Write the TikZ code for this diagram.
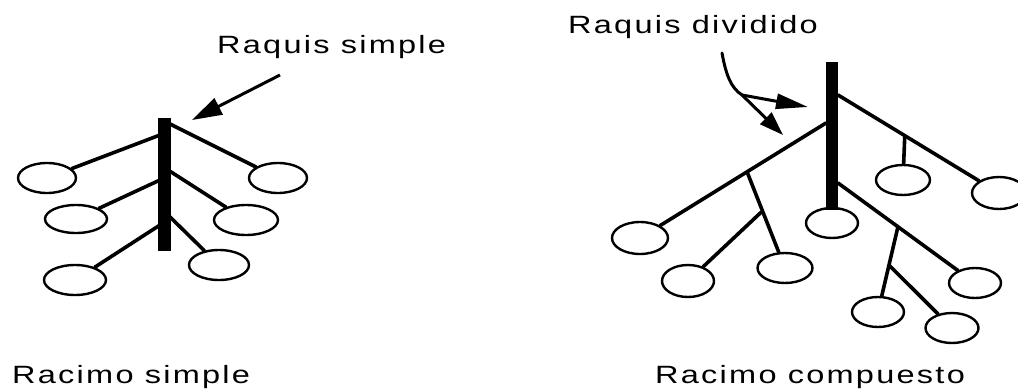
\documentclass[tikz,border=0pt]{standalone}
\usepackage{fontspec}
\newfontfamily\lab[FakeStretch=1.3,LetterSpace=9]{Liberation Sans}
\usetikzlibrary{arrows.meta,calc,shapes.geometric}
\begin{document}
\begin{tikzpicture}[x=1pt,y=-1pt,
  grape/.style={draw,ellipse,line width=2.4pt,inner sep=0pt,minimum width=58pt,minimum height=30pt},
  stembar/.style={line width=13pt},
  twig/.style={line width=3.6pt,line cap=round},
  pointer/.style={line width=3pt},
  lbl/.style={inner sep=0pt,font=\lab\fontsize{25}{30}\selectfont}]
\useasboundingbox (0,0) rectangle (1018,391);
\begin{scope}
\clip (0,0) rectangle (1018,391);
% ---------- left: Racimo simple ----------
\coordinate (ltop) at (164,118);
\coordinate (lbot) at (164,251);
\draw[stembar] (ltop) -- (lbot);
\node[grape] (c1) at (47,178) {};
\node[grape] (c2) at (278,178) {};
\node[grape,minimum width=62pt,minimum height=28pt] (c3) at (76,219) {};
\node[grape,minimum width=64pt] (c4) at (246,220) {};
\node[grape,minimum width=62pt] (c5) at (75,280) {};
\node[grape,minimum width=60pt] (c6) at (219,265) {};
\coordinate (s1) at (160,135);
\coordinate (s2) at (168,123);
\coordinate (s3) at (160,180);
\coordinate (s4) at (168,170);
\coordinate (s5) at (160,225);
\coordinate (s6) at (168,215);
\draw[twig] (s1) -- (c1);
\draw[twig] (s2) -- (c2);
\draw[twig] (s3) -- (c3);
\draw[twig] (s4) -- (c4);
\draw[twig] (s5) -- (c5);
\draw[twig] (s6) -- (c6);
\node[lbl,anchor=base west] (t1) at (217,53) {Raquis simple};
\coordinate (a1) at (280,75);
\coordinate (a1tip) at (192,120);
\draw[pointer,-{Triangle[length=30pt,width=18pt]}] (a1) -- (a1tip);
\node[lbl,anchor=base west] (t2) at (12,383) {Racimo simple};
% ---------- right: Racimo compuesto ----------
\coordinate (rtop) at (832,62);
\coordinate (rbot) at (832,210);
\draw[stembar,line width=12pt] (rtop) -- (rbot);
\node[grape,minimum width=52pt] (cc) at (832,223) {};
\node[grape,minimum width=54pt,minimum height=32pt] (r1) at (999,193) {};
\node[grape,minimum width=54pt] (r2) at (903,180) {};
\node[grape,minimum width=56pt,minimum height=32pt] (l1) at (640,238) {};
\node[grape,minimum width=55pt] (l2) at (785,268) {};
\node[grape,minimum width=52pt,minimum height=32pt] (l3) at (688,281) {};
\node[grape,minimum width=52pt] (r3) at (975,283) {};
\node[grape,minimum width=52pt] (r4) at (878,312) {};
\node[grape,minimum width=53pt] (r5) at (952,328) {};
\coordinate (b1) at (838,95);
\coordinate (b2) at (826,123);
\coordinate (b3) at (838,183);
\draw[twig] (b1) -- (r1);
\coordinate (j1) at ($(b1)!0.48!(977,182)$);
\draw[twig] (j1) -- (r2);
\draw[twig] (b2) -- (l1);
\coordinate (j2) at ($(b2)!0.48!(662,226)$);
\draw[twig] (j2) -- (l2);
\coordinate (j3) at ($(j2)!0.5!(775,252)$);
\draw[twig] (j3) -- (l3);
\draw[twig] (b3) -- (r3);
\coordinate (j4) at ($(b3)!0.5!(958,270)$);
\draw[twig] (j4) -- (r4);
\coordinate (j5) at ($(j4)!0.55!(882,297)$);
\draw[twig] (j5) -- (r5);
\node[lbl,anchor=base west] (t3) at (568,33) {Raquis dividido};
\coordinate (a2) at (722,53);
\coordinate (a2fork) at (742,95);
\coordinate (a2tipA) at (808,107);
\coordinate (a2tipB) at (783,135);
\draw[pointer,line cap=round] (a2) .. controls (726,75) and (731,88) .. (a2fork);
\draw[pointer,-{Triangle[length=32pt,width=15pt]}] (a2fork) -- (a2tipA);
\draw[pointer,-{Triangle[length=24pt,width=16pt]}] (a2fork) -- (a2tipB);
\node[lbl,anchor=base west] (t4) at (655,383) {Racimo compuesto};
\end{scope}
\end{tikzpicture}
\end{document}
